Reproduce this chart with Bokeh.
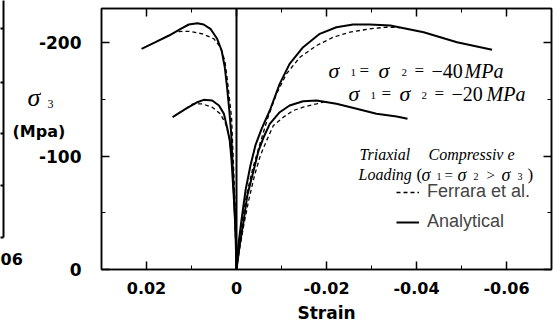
from bokeh.plotting import figure
from bokeh.models import (Range1d, FixedTicker, LinearAxis, Label, Span,
                          Legend, LegendItem)
from bokeh.core.properties import value
from bokeh.embed import file_html
from bokeh.resources import INLINE

# ---------------- data (strain, stress in MPa) ----------------
# lateral side (positive strain), sigma1 = sigma2 = -40 MPa
lat40_ana_strain = [0.0211, 0.0180, 0.0150, 0.0124, 0.0106, 0.0087, 0.0073, 0.0058, 0.0043,
                    0.0033, 0.0026, 0.0021, 0.0016, 0.0012, 0.0008, 0.0003, 0.0]
lat40_ana_stress = [-194.5, -200.3, -206.2, -212.1, -215.9, -217.0, -215.9, -212.1, -203.3,
                    -193.0, -178.2, -160.6, -140.1, -121.1, -87.2, -43.2, 0.0]
lat40_fer_strain = [0.0129, 0.0106, 0.0076, 0.0050, 0.0036, 0.0026, 0.0021, 0.0016, 0.0011,
                    0.0007, 0.0002, 0.0]
lat40_fer_stress = [-209.7, -209.9, -207.7, -203.3, -195.9, -184.1, -169.4, -151.8, -134.2,
                    -96.0, -43.0, 0.0]
# lateral side, sigma1 = sigma2 = -20 MPa
lat20_ana_strain = [0.0142, 0.0113, 0.0087, 0.0073, 0.0054, 0.0039, 0.0028, 0.0021, 0.0015,
                    0.0011, 0.0006, 0.0001, 0.0]
lat20_ana_stress = [-134.2, -141.6, -147.4, -149.5, -148.9, -144.5, -137.2, -125.4, -113.7,
                    -96.0, -63.7, -25.6, 0.0]
lat20_fer_strain = [0.0113, 0.0098, 0.0076, 0.0054, 0.0036, 0.0024, 0.0016, 0.0010, 0.0004, 0.0]
lat20_fer_stress = [-141.6, -145.8, -146.0, -143.0, -137.2, -128.4, -116.6, -96.0, -52.0, 0.0]
# axial side (negative strain), sigma1 = sigma2 = -40 MPa
ax40_ana_strain = [0.0, -0.0004, -0.0011, -0.0020, -0.0031, -0.0042, -0.0056, -0.0074, -0.0096,
                   -0.0118, -0.0148, -0.0185, -0.0222, -0.0259, -0.0296, -0.0342, -0.0416,
                   -0.0490, -0.0568]
ax40_ana_stress = [0.0, -21.1, -43.2, -69.6, -91.6, -109.3, -124.2, -140.1, -163.6,
                   -181.2, -195.9, -207.7, -213.5, -215.9, -215.9, -215.0, -209.1,
                   -200.3, -193.6]
ax40_fer_strain = [0.0, -0.0004, -0.0011, -0.0022, -0.0036, -0.0051, -0.0070, -0.0089, -0.0111,
                   -0.0141, -0.0178, -0.0215, -0.0252, -0.0296, -0.0333, -0.0364]
ax40_fer_stress = [0.0, -18.5, -38.8, -65.2, -89.0, -109.3, -134.2, -154.8, -172.4,
                   -187.1, -197.4, -204.7, -209.1, -212.1, -213.5, -213.2]
# axial side, sigma1 = sigma2 = -20 MPa
ax20_ana_strain = [0.0, -0.0007, -0.0016, -0.0024, -0.0038, -0.0049, -0.0060, -0.0074, -0.0096,
                   -0.0118, -0.0148, -0.0178, -0.0222, -0.0267, -0.0311, -0.0356, -0.0380]
ax20_ana_stress = [0.0, -21.1, -43.2, -65.2, -87.2, -104.8, -116.3, -128.4, -138.6,
                   -144.5, -148.3, -148.9, -146.0, -141.6, -137.2, -134.8, -132.8]
ax20_fer_strain = [0.0, -0.0007, -0.0016, -0.0027, -0.0040, -0.0053, -0.0067, -0.0082, -0.0104,
                   -0.0126, -0.0148, -0.0178, -0.0200]
ax20_fer_stress = [0.0, -18.5, -38.8, -60.8, -82.8, -100.4, -113.7, -126.9, -134.2,
                   -140.1, -143.0, -146.0, -148.3]

x_ticks = [0.02, 0.0, -0.02, -0.04, -0.06]
x_tick_labels = ["0.02", "0", "-0.02", "-0.04", "-0.06"]
x_minor = [0.03, 0.01, -0.01, -0.03, -0.05, -0.07]
y_ticks = [0.0, -100.0, -200.0]
y_tick_labels = ["0", "-100", "-200"]
y_minor = [-50.0, -150.0]

# ---------------- figure ----------------
p = figure(width=557, height=325, output_backend="svg", toolbar_location=None,
           x_range=Range1d(0.03, -0.07), y_range=Range1d(0, -230),
           min_border_left=101, min_border_right=6, min_border_top=8, min_border_bottom=56)
p.background_fill_color = "white"
p.border_fill_color = "white"
p.grid.visible = False
p.outline_line_color = "black"
p.outline_line_width = 1.5

p.add_layout(LinearAxis(), "above")
p.add_layout(LinearAxis(), "right")

TICK_FONT = "DejaVu Sans"
SERIF = "Liberation Serif"
for ax in p.xaxis:
    ax.ticker = FixedTicker(ticks=x_ticks, minor_ticks=x_minor)
for ax in p.yaxis:
    ax.ticker = FixedTicker(ticks=y_ticks, minor_ticks=y_minor)
for ax in list(p.xaxis) + list(p.yaxis):
    ax.axis_line_color = "black"
    ax.axis_line_width = 1.5
    ax.major_tick_in = 8
    ax.major_tick_out = 0
    ax.minor_tick_in = 4
    ax.minor_tick_out = 0
    ax.major_tick_line_width = 1.5
    ax.major_tick_line_color = "black"
    ax.minor_tick_line_color = "black"
    ax.major_label_text_font = TICK_FONT
    ax.major_label_text_font_style = "bold"
    ax.major_label_text_font_size = "16px"
    ax.major_label_text_color = "black"

xb = p.below[0]
xb.major_label_overrides = dict(zip(x_ticks, x_tick_labels))
xb.major_label_standoff = 12
xb.axis_label = "Strain"
xb.axis_label_text_font = TICK_FONT
xb.axis_label_text_font_style = "bold"
xb.axis_label_text_font_size = "17px"
xb.axis_label_text_color = "black"
xb.axis_label_standoff = 6

yl = p.left[0]
yl.major_label_overrides = dict(zip(y_ticks, y_tick_labels))
yl.major_label_standoff = 20
yl.major_label_text_font_size = "17px"

p.above[0].major_label_overrides = {t: "" for t in x_ticks}
p.right[0].major_label_overrides = {t: "" for t in y_ticks}
for ax in (p.above[0], p.right[0]):
    ax.major_label_standoff = 0

# zero-strain line
p.add_layout(Span(location=0, dimension="height", line_color="black", line_width=2))

# curves
solid = dict(line_color="black", line_width=2)
dashed = dict(line_color="black", line_width=1.3, line_dash="4 3")
r_sol = p.line(lat40_ana_strain, lat40_ana_stress, **solid)
p.line(lat20_ana_strain, lat20_ana_stress, **solid)
p.line(ax40_ana_strain, ax40_ana_stress, **solid)
p.line(ax20_ana_strain, ax20_ana_stress, **solid)
r_dash = p.line(lat40_fer_strain, lat40_fer_stress, **dashed)
p.line(lat20_fer_strain, lat20_fer_stress, **dashed)
p.line(ax40_fer_strain, ax40_fer_stress, **dashed)
p.line(ax20_fer_strain, ax20_fer_stress, **dashed)

legend = Legend(items=[LegendItem(label="Ferrara et al.", renderers=[r_dash]),
                       LegendItem(label="Analytical", renderers=[r_sol])],
                location=(295, 37), border_line_alpha=0, background_fill_alpha=0,
                label_text_font="Liberation Sans", label_text_font_size="18px",
                glyph_width=23, glyph_height=20, label_height=20, spacing=9,
                padding=0, margin=0, label_standoff=8)
p.add_layout(legend)


# ---------------- text placement helpers (canvas pixels -> data) ----------------
def X(px):
    return 0.03 - (px - 101) / 4500.0


def Y(py):
    return -(269 - py) / 1.1348


def tokens(baseline_py, items, font=SERIF):
    # items: (left_px, text, size_px, style, drop_px)
    for left, txt, size, style, drop in items:
        p.add_layout(Label(x=X(left), y=Y(baseline_py + drop), text=txt, text_font=font,
                           text_font_size=f"{size}px", text_font_style=style,
                           text_align="left", text_baseline="alphabetic",
                           text_color="black"))


tokens(70, [(328, "σ", 22, "italic", 0), (350, "1", 11, "normal", 2),
            (359, "=", 17, "normal", 0), (378, "σ", 22, "italic", 0),
            (401, "2", 11, "normal", 2), (414, "=", 17, "normal", 0),
            (431, "−40", 20, "normal", 0), (464, "MPa", 20, "italic", 0)])
tokens(93, [(348, "σ", 22, "italic", 0), (370, "1", 11, "normal", 2),
            (381, "=", 17, "normal", 0), (399, "σ", 22, "italic", 0),
            (421, "2", 11, "normal", 2), (434, "=", 17, "normal", 0),
            (451, "−20", 20, "normal", 0), (486, "MPa", 20, "italic", 0)])
tokens(154, [(359, "Triaxial", 16, "italic", 0), (428, "Compressiv e", 16, "italic", 0)])
tokens(174, [(358, "Loading", 16, "italic", 0), (416, "(", 17, "normal", 0),
             (421, "σ", 18, "italic", 0), (436, "1", 10, "normal", 2),
             (444, "=", 15, "normal", 0), (457, "σ", 18, "italic", 0),
             (473, "2", 10, "normal", 2), (486, ">", 15, "normal", 0),
             (501, "σ", 18, "italic", 0), (517, "3", 10, "normal", 2),
             (527, ")", 17, "normal", 0)])

# ---------------- texts and marks outside the frame (overlay level: not clipped) ----------
out_txt = [  # (x_px, baseline_py, text, font, size, style, align)
    (27, 97, "σ", SERIF, "26px", "italic", "left"),
    (47, 103, "3", SERIF, "12px", "normal", "left"),
    (12, 131, "(Mpa)", TICK_FONT, "16px", "bold", "left"),
    (0, 258, "06", TICK_FONT, "16px", "bold", "left"),
]
for xp, yp, txt, font, size, style, align in out_txt:
    p.text(x=[X(xp)], y=[Y(yp)], text=[txt], text_font=value(font), text_font_size=value(size),
           text_font_style=style, text_align=align, text_baseline="alphabetic",
           text_color="black", level="overlay")

# edge of the neighbouring panel (frame corner and its ticks)
p.segment(x0=[X(3), X(0), X(3), X(3), X(3), X(3)],
          y0=[Y(0), Y(237), Y(28), Y(82), Y(133), Y(185)],
          x1=[X(3), X(3), X(0), X(0), X(0), X(0)],
          y1=[Y(237), Y(237), Y(28), Y(82), Y(133), Y(185)],
          line_color="black", line_width=2, level="overlay")

open("out.html", "w").write(file_html(p, INLINE))
